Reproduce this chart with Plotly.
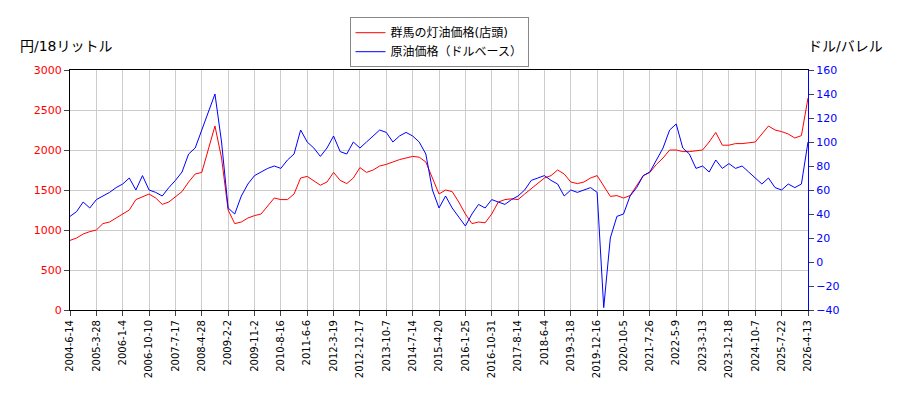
import plotly.graph_objects as go

tick_labels = ["2004-6-14","2005-3-28","2006-1-4","2006-10-10","2007-7-17","2008-4-28","2009-2-2","2009-11-2","2010-8-16","2011-6-6","2012-3-19","2012-12-17","2013-10-7","2014-7-14","2015-4-20","2016-1-25","2016-10-31","2017-8-14","2018-6-4","2019-3-18","2019-12-16","2020-10-5","2021-7-26","2022-5-9","2023-3-13","2023-12-18","2024-10-7","2025-7-22","2026-4-13"]

kerosene = [870,900,950,980, 1000,1080,1100,1150, 1200,1250,1380,1420, 1450,1400,1320,1350,
            1420,1480,1600,1700, 1720,2000,2300,1900, 1250,1080,1100,1150, 1180,1200,1300,1400,
            1380,1380,1450,1650, 1670,1620,1560,1600, 1720,1620,1580,1650, 1780,1720,1750,1800,
            1820,1850,1880,1900, 1920,1910,1850,1650, 1450,1500,1480,1350, 1200,1080,1100,1090,
            1200,1350,1380,1390, 1380,1450,1520,1580, 1650,1680,1750,1700, 1600,1580,1600,1650,
            1680,1550,1420,1430, 1400,1430,1550,1680, 1720,1820,1900,2000, 2000,1980,1980,1990,
            2000,2100,2220,2060, 2060,2080,2080,2090, 2100,2200,2300,2250, 2230,2200,2150,2180, 2650]

crude = [38,42,50,45, 52,55,58,62, 65,70,60,72, 60,58,55,62, 68,75,90,95, 110,125,140,100,
         45,40,55,65, 72,75,78,80, 78,85,90,110, 100,95,88,95, 105,92,90,100, 95,100,105,110,
         108,100,105,108, 105,100,90,60, 45,55,45,38, 30,40,48,45, 52,50,48,52, 55,60,68,70,
         72,68,65,55, 60,58,60,62, 58,-38,20,38, 40,55,62,72, 75,85,95,110, 115,95,90,78,
         80,75,85,78, 82,78,80,75, 70,65,70,62, 60,65,62,65, 100]

xs = [i*0.25 for i in range(len(kerosene))]

fig = go.Figure()
fig.add_trace(go.Scatter(x=xs, y=kerosene, name="群馬の灯油価格(店頭)", line=dict(color="red", width=1)))
fig.add_trace(go.Scatter(x=xs, y=crude, name="原油価格（ドルベース）", line=dict(color="blue", width=1), yaxis="y2"))

fig.update_layout(
    width=900, height=400, margin=dict(l=62, r=100, t=62, b=98, autoexpand=False),
    plot_bgcolor="white", paper_bgcolor="white",
    font=dict(family="DejaVu Sans, Noto Sans CJK JP", size=11, color="black"),
    showlegend=True,
    legend=dict(x=0.5, y=1.22, xanchor="center", yanchor="top", bordercolor="#888", borderwidth=1, font=dict(size=12)),
    xaxis=dict(range=[0, 28], tickvals=list(range(29)), ticktext=tick_labels, tickangle=-90, automargin=False,
               showgrid=True, gridcolor="#cccccc", showline=True, linecolor="black", mirror=True,
               ticks="outside", tickfont=dict(size=10), zeroline=False),
    yaxis=dict(range=[0, 3000], dtick=500, tickfont=dict(color="red"), showgrid=True, gridcolor="#cccccc", automargin=False,
               showline=True, linecolor="black", ticks="outside", zeroline=False),
    yaxis2=dict(range=[-40, 160], dtick=20, overlaying="y", side="right", tickfont=dict(color="blue"), automargin=False,
                showgrid=False, showline=True, linecolor="blue", ticks="outside", zeroline=False),
    annotations=[
        dict(text="円/18リットル", xref="paper", yref="paper", x=-0.07, y=1.06, xanchor="left", yanchor="bottom", showarrow=False, font=dict(size=14)),
        dict(text="ドル/バレル", xref="paper", yref="paper", x=1.105, y=1.06, xanchor="right", yanchor="bottom", showarrow=False, font=dict(size=14)),
    ],
)
fig.write_html("out.html")
